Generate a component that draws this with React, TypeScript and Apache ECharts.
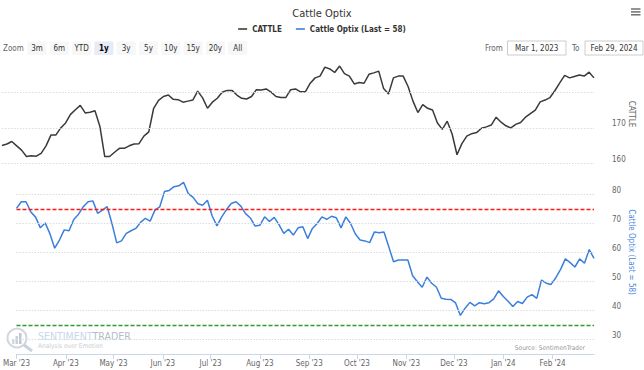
import React, { useEffect, useRef } from "react";
import * as echarts from "echarts";

// ---- data ----
const START_DATE = new Date(2023, 2, 1).getTime(); // Mar 1, 2023
const STEP_DAYS = 3;
const CATTLE = [
  165.1, 165.5, 166.2, 165.0, 163.8, 162.0, 162.2, 162.1, 162.9, 165.0,
  168.0, 168.0, 170.0, 171.4, 173.8, 175.1, 176.3, 174.2, 174.4, 174.8,
  170.5, 162.0, 162.0, 163.2, 164.3, 164.3, 165.0, 165.5, 165.6, 167.7,
  168.9, 175.5, 177.7, 178.8, 179.2, 178.0, 177.9, 177.2, 177.5, 177.8,
  180.3, 178.4, 175.5, 177.2, 178.3, 180.0, 180.5, 180.5, 179.2, 178.3,
  178.1, 178.8, 180.7, 180.6, 180.9, 180.0, 178.8, 178.5, 178.5, 180.7,
  180.9, 180.1, 180.1, 182.5, 184.0, 184.5, 187.0, 186.5, 185.5, 187.3,
  185.2, 184.5, 182.3, 182.7, 182.5, 185.0, 185.4, 185.9, 181.0, 179.5,
  184.0, 184.5, 184.5, 181.6, 177.5, 174.3, 176.5, 175.5, 175.0, 171.4,
  169.6, 171.9, 168.3, 162.5, 165.6, 167.7, 168.4, 168.7, 169.9, 170.3,
  170.8, 173.0, 171.6, 170.6, 170.0, 171.0, 171.5, 173.0, 174.0, 175.0,
  177.3, 177.8, 178.5, 180.4, 182.6, 184.7, 184.0, 184.4, 184.8, 184.5,
  185.6, 184.0,
];
const OPTIX = [
  75.2, 77.5, 77.5, 74.0, 72.2, 68.5, 70.2, 66.5, 61.5, 64.3,
  67.8, 67.5, 71.4, 73.2, 75.8, 77.5, 77.8, 73.5, 74.6, 75.8,
  70.0, 63.3, 64.0, 66.6, 67.5, 68.3, 70.4, 71.8, 70.8, 74.6,
  75.7, 81.0, 81.4, 82.7, 83.0, 84.2, 80.3, 79.0, 76.8, 76.3,
  78.0, 72.6, 69.2, 72.3, 74.8, 76.9, 77.5, 76.0, 73.4, 71.9,
  69.1, 69.4, 72.3, 70.7, 72.1, 69.6, 66.6, 68.0, 66.0, 68.5,
  68.9, 64.8, 68.3, 70.0, 72.3, 71.4, 72.5, 72.0, 68.5, 72.3,
  70.0, 66.4, 64.3, 64.0, 63.4, 67.1, 66.8, 67.1, 62.0, 56.8,
  57.4, 57.4, 57.4, 52.0, 49.9, 48.0, 51.5, 49.4, 48.0, 44.2,
  43.9, 43.8, 42.6, 38.3, 40.8, 42.8, 41.6, 42.7, 42.3, 42.7,
  44.0, 46.8, 44.8, 43.2, 41.4, 43.1, 42.4, 44.6, 45.5, 44.2,
  50.5, 49.4, 49.0, 51.3, 54.2, 57.8, 56.5, 55.0, 57.8, 56.3,
  61.0, 58.0,
];
const LAST_OPTIX = 58;
const TOP_GRID = [160, 170, 180];
const TOP_LABELS = [160, 170];
const BOTTOM_GRID = [30, 40, 50, 60, 70, 80];
const BOTTOM_LABELS = [30, 40, 50, 60, 70, 80];
const UPPER_BAND = 75;
const LOWER_BAND = 35;
const ZOOM_BUTTONS = ["3m", "6m", "YTD", "1y", "3y", "5y", "10y", "15y", "20y", "All"];
const SELECTED_ZOOM = "1y";
const FROM_DATE = "Mar 1, 2023";
const TO_DATE = "Feb 29, 2024";
const MONTHS = ["Jan", "Feb", "Mar", "Apr", "May", "Jun", "Jul", "Aug", "Sep", "Oct", "Nov", "Dec"];

const FONT = '"Liberation Sans Narrow", "DejaVu Sans Condensed", "Open Sans", "Noto Sans", sans-serif';
const DAY = 86400000;

export default function App() {
  const ref = useRef<HTMLDivElement>(null);
  useEffect(() => {
    if (!ref.current) return;
    const chart = echarts.init(ref.current, undefined, { renderer: "svg" });
    const dates = CATTLE.map((_, i) => START_DATE + i * STEP_DAYS * DAY);
    const endDate = dates[dates.length - 1];
    const cattleData = CATTLE.map((v, i) => [dates[i], v]);
    const optixData = OPTIX.map((v, i) => [dates[i], v]);
    const optixName = `Cattle Optix (Last = ${LAST_OPTIX})`;

    const txt = (text: string, x: number, y: number, extra: any = {}) => ({
      type: "text",
      x,
      y,
      silent: true,
      style: {
        text,
        fontFamily: FONT,
        fontSize: 8,
        fill: "#666",
        align: "left",
        verticalAlign: "middle",
        ...extra,
      },
    });

    const graphics: any[] = [];
    graphics.push(txt("Zoom", 3, 48.5));
    ZOOM_BUTTONS.forEach((b, i) => {
      const x = 27.5 + i * 22.3;
      const sel = b === SELECTED_ZOOM;
      graphics.push({
        type: "rect",
        silent: true,
        shape: { x, y: 41.5, width: 19, height: 13.5, r: 1 },
        style: { fill: sel ? "#e6ebf5" : "#f7f7f7" },
      });
      graphics.push(
        txt(b, x + 9.5, 48.5, {
          align: "center",
          fill: sel ? "#000" : "#333",
          fontWeight: sel ? "bold" : "normal",
        })
      );
    });
    graphics.push(txt("From", 485, 48.5));
    graphics.push({
      type: "rect",
      silent: true,
      shape: { x: 507.5, y: 41, width: 58.5, height: 14 },
      style: { fill: "#fff", stroke: "#cccccc", lineWidth: 1 },
    });
    graphics.push(txt(FROM_DATE, 536.7, 48.5, { align: "center", fill: "#333" }));
    graphics.push(txt("To", 572, 48.5));
    graphics.push({
      type: "rect",
      silent: true,
      shape: { x: 585, y: 41, width: 58, height: 14 },
      style: { fill: "#fff", stroke: "#cccccc", lineWidth: 1 },
    });
    graphics.push(txt(TO_DATE, 614, 48.5, { align: "center", fill: "#333" }));
    // hamburger
    [8.3, 11.2, 14.1].forEach((y) =>
      graphics.push({
        type: "rect",
        silent: true,
        shape: { x: 631, y, width: 9.5, height: 1.4 },
        style: { fill: "#666" },
      })
    );
    // axis titles
    graphics.push({
      type: "text",
      x: 631,
      y: 114,
      rotation: -Math.PI / 2,
      silent: true,
      style: { text: "CATTLE", fontFamily: FONT, fontSize: 8, fill: "#666", align: "center", verticalAlign: "middle" },
    });
    graphics.push({
      type: "text",
      x: 631,
      y: 252,
      rotation: -Math.PI / 2,
      silent: true,
      style: { text: optixName, fontFamily: FONT, fontSize: 8, fill: "#4a86e0", align: "center", verticalAlign: "middle" },
    });
    // watermark
    graphics.push({
      type: "group",
      silent: true,
      children: [
        { type: "circle", shape: { cx: 17, cy: 338, r: 9.5 }, style: { fill: "none", stroke: "#cfd6de", lineWidth: 2 } },
        { type: "rect", shape: { x: 12, y: 339, width: 2.5, height: 5 }, style: { fill: "#d3d9e0" } },
        { type: "rect", shape: { x: 15.5, y: 336, width: 2.5, height: 8 }, style: { fill: "#c9d0d8" } },
        { type: "rect", shape: { x: 19, y: 333, width: 2.5, height: 11 }, style: { fill: "#bfc7d0" } },
        { type: "line", shape: { x1: 24, y1: 345, x2: 32, y2: 351 }, style: { stroke: "#c5d2e0", lineWidth: 3 } },
      ],
    });
    graphics.push({
      type: "text",
      x: 38,
      y: 335.5,
      silent: true,
      style: {
        text: "{a|SENTIMENT}{b|TRADER}",
        fontFamily: FONT,
        verticalAlign: "middle",
        rich: {
          a: { fontFamily: FONT, fontSize: 10.5, fill: "#c8d7ea", lineHeight: 11 },
          b: { fontFamily: FONT, fontSize: 10.5, fill: "#b4bcc6", lineHeight: 11 },
        },
      },
    });
    graphics.push(txt("Analysis over Emotion", 38, 346, { fontSize: 6.5, fill: "#c9ced4" }));
    graphics.push(txt("Source: SentimenTrader", 585, 347.5, { fontSize: 6.5, fill: "#999", align: "right" }));

    const gridLine = (name: string, xi: number, yi: number, data: any[], values: number[]) => ({
      type: "line",
      name,
      xAxisIndex: xi,
      yAxisIndex: yi,
      data,
      silent: true,
      showSymbol: false,
      symbol: "none",
      z: 1,
      lineStyle: { opacity: 0 },
      markLine: {
        silent: true,
        symbol: ["none", "none"],
        label: { show: false },
        lineStyle: { color: "#dcdcdc", type: [1.5, 1.5], width: 1 },
        data: values.map((v) => ({ yAxis: v })),
      },
    });
    const band = (name: string, value: number, color: string) => ({
      type: "line",
      name,
      xAxisIndex: 1,
      yAxisIndex: 1,
      data: optixData,
      silent: true,
      showSymbol: false,
      symbol: "none",
      z: 1,
      lineStyle: { opacity: 0 },
      markLine: {
        silent: true,
        symbol: ["none", "none"],
        label: { show: false },
        lineStyle: { color, type: [4, 2], width: 1.4 },
        data: [{ yAxis: value }],
      },
    });

    const fmtDate = (v: number) => {
      const d = new Date(v);
      return `${MONTHS[d.getMonth()]} '${String(d.getFullYear()).slice(2)}`;
    };

    chart.setOption({
      animation: false,
      textStyle: { fontFamily: FONT },
      title: {
        text: "Cattle Optix",
        left: "center",
        top: 3,
        textStyle: { fontFamily: FONT, fontSize: 11, fontWeight: "normal", color: "#333" },
      },
      legend: {
        data: ["CATTLE", optixName],
        left: "center",
        top: 20,
        icon: "rect",
        itemWidth: 9,
        itemHeight: 1.6,
        itemGap: 14,
        textStyle: { fontFamily: FONT, fontSize: 8, fontWeight: "bold", color: "#333" },
      },
      grid: [
        { left: 2, right: 50, top: 60, height: 118 },
        { left: 2, right: 50, top: 180, height: 174 },
      ],
      xAxis: [
        { type: "time", gridIndex: 0, min: START_DATE, max: endDate, show: false },
        {
          type: "time",
          gridIndex: 1,
          min: START_DATE,
          max: endDate,
          splitNumber: 12,
          axisLine: { lineStyle: { color: "#ccd6eb" } },
          axisTick: { show: true, length: 5, lineStyle: { color: "#ccd6eb" } },
          splitLine: { show: false },
          axisLabel: {
            formatter: (v: number) => fmtDate(v),
            fontFamily: FONT,
            fontSize: 8,
            color: "#666",
            margin: 5,
            alignMinLabel: "left",
            showMaxLabel: false,
          },
        },
      ],
      yAxis: [
        {
          type: "value",
          gridIndex: 0,
          position: "right",
          min: 156,
          max: 189,
          splitLine: { show: false },
          axisLine: { show: false },
          axisTick: { show: false },
          axisLabel: {
            formatter: (v: number) => (TOP_LABELS.includes(v) ? String(v) : ""),
            fontFamily: FONT,
            fontSize: 8,
            color: "#666",
            margin: 18,
            verticalAlign: "bottom",
            showMinLabel: false,
            showMaxLabel: false,
          },
        },
        {
          type: "value",
          gridIndex: 1,
          position: "right",
          min: 25,
          max: 85,
          splitLine: { show: false },
          axisLine: { show: false },
          axisTick: { show: false },
          axisLabel: {
            formatter: (v: number) => (BOTTOM_LABELS.includes(v) ? String(v) : ""),
            fontFamily: FONT,
            fontSize: 8,
            color: "#666",
            margin: 18,
            verticalAlign: "bottom",
            showMinLabel: false,
            showMaxLabel: false,
          },
        },
      ],
      series: [
        gridLine("g-top", 0, 0, cattleData, TOP_GRID),
        gridLine("g-bottom", 1, 1, optixData, BOTTOM_GRID),
        band("upper", UPPER_BAND, "#ff1a1a"),
        band("lower", LOWER_BAND, "#2e9a2e"),
        {
          type: "line",
          name: "CATTLE",
          xAxisIndex: 0,
          yAxisIndex: 0,
          data: cattleData,
          showSymbol: false,
          symbol: "none",
          z: 3,
          color: "#3a3a3a",
          lineStyle: { color: "#3a3a3a", width: 1.5 },
        },
        {
          type: "line",
          name: optixName,
          xAxisIndex: 1,
          yAxisIndex: 1,
          data: optixData,
          showSymbol: false,
          symbol: "none",
          z: 3,
          color: "#3b7fdd",
          lineStyle: { color: "#3b7fdd", width: 1.5 },
        },
      ],
      graphic: graphics,
    });
    return () => chart.dispose();
  }, []);
  return (
    <div
      ref={ref}
      style={{ position: "absolute", left: 0, top: 0, width: 644, height: 370, background: "#fff" }}
    />
  );
}
